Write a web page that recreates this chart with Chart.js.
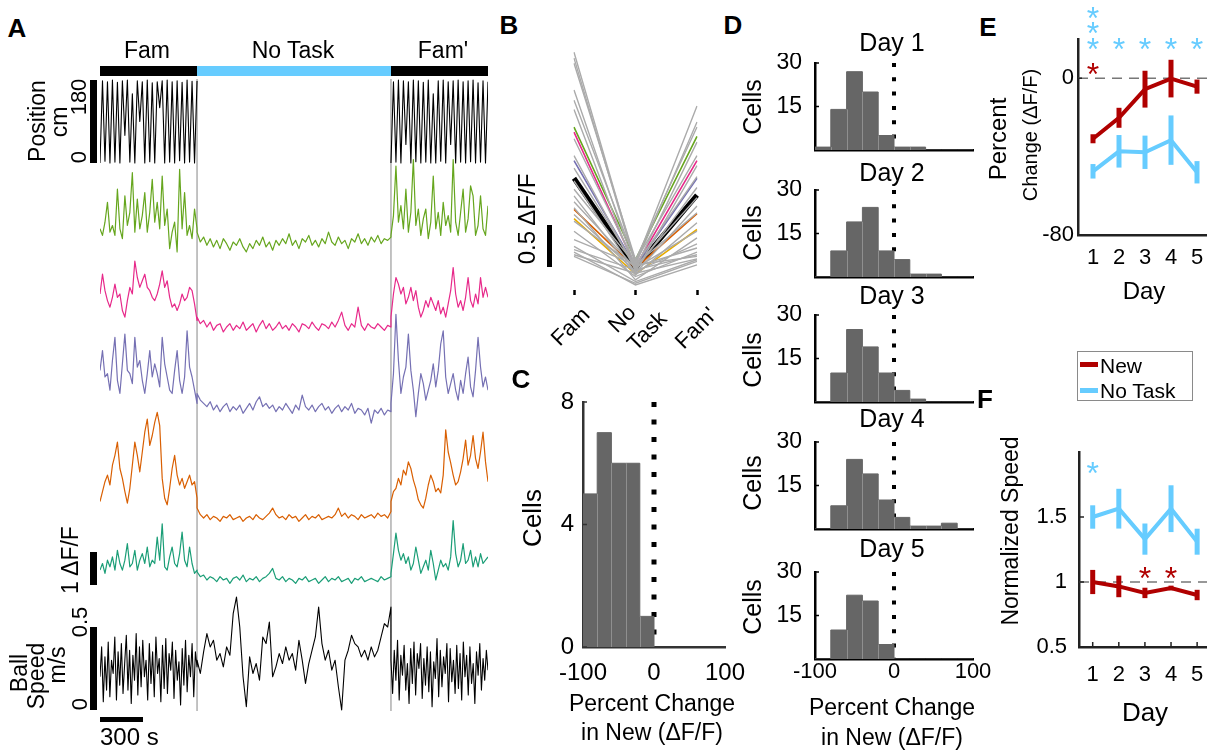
<!DOCTYPE html>
<html><head><meta charset="utf-8">
<script src="https://cdn.jsdelivr.net/npm/chart.js@4.4.1/dist/chart.umd.min.js"></script>
<style>
html,body{margin:0;padding:0;background:#fff;}
#fig{position:relative;width:1207px;height:752px;overflow:hidden;background:#fff;font-family:"Liberation Sans",Arial,Helvetica,sans-serif;color:#000;}
</style></head><body><div id="fig"></div>
<script>
// ================= DATA =================
// Panel A : segment boundaries (s) Fam | No Task | Fam'
const segTimes = [0, 677, 2030, 2707];
// track position (cm)
const posFam  = [0,178,4,176,0,180,2,175,0,178,60,180,2,150,0,178,90,176,0,180,3,174,0,176,120,178,0,180,2,176,0,178,5,175,0,180,2,177,0,178];
const posFamP = [0,176,2,180,0,178,40,176,0,180,3,178,0,175,2,180,0,150,0,178,4,180,0,176,40,178,0,180,2,176,0,178,3,180,0,174,2,178,0,176];
// dF/F traces (relative to No Task level)
const greenFam    = [0.4,0.2,0.6,1.2,0.3,0.5,0.2,1.6,0.4,0.1,1.4,0.5,0.9,2.1,0.3,1.3,0.4,0.8,1.5,0.3,0.9,1.9,0.6,1.2,0.4,2.0,0.5,1.0,-0.2,0.3,0.6,-0.3,2.2,0.4,1.5,0.2,0.5,0.1,1.0,0.4];
const greenNoTask = [0.3,0.0,0.15,-0.1,0.1,-0.15,0.05,-0.2,0.1,-0.05,-0.25,0.0,-0.1,0.1,-0.15,-0.3,-0.05,-0.2,0.05,-0.1,0.15,-0.15,0.0,-0.25,0.05,-0.1,0.1,-0.05,0.25,-0.1,0.05,-0.2,0.1,0.0,0.2,-0.1,0.05,-0.15,0.1,-0.05,0.3,0.0,-0.1,0.15,-0.05,0.05,-0.2,0.1,0.0,0.25,-0.05,0.1,-0.1,0.15,0.0,0.2,-0.05,0.1,0.05,0.15];
const greenFamP   = [0.2,0.8,2.3,0.6,1.1,0.4,1.6,0.3,0.9,2.5,0.5,1.0,0.2,0.7,1.0,0.1,0.6,2.0,0.4,0.9,0.2,1.2,0.5,0.8,0.3,2.5,0.6,0.2,0.9,1.6,0.3,0.7,1.7,1.4,0.2,0.5,1.4,0.4,0.2,1.1];
const pinkFam     = [1.0,1.6,1.1,0.8,0.6,0.9,1.3,0.9,1.0,0.5,0.3,0.8,1.2,1.0,2.0,1.5,1.2,1.4,1.6,1.2,1.1,0.9,0.8,1.0,1.3,1.7,1.2,1.4,0.9,0.6,0.7,0.5,0.7,1.0,0.8,0.9,1.2,1.1,0.7,0.2];
const pinkNoTask  = [0.3,0.1,0.2,0.0,0.15,-0.1,0.05,0.1,-0.15,0.0,0.1,-0.1,0.05,-0.05,0.15,-0.1,0.0,0.1,-0.15,0.05,0.2,-0.05,0.1,-0.1,0.0,0.15,-0.05,0.05,-0.1,0.1,0.0,-0.15,0.1,0.05,-0.05,0.15,0.0,-0.1,0.1,0.05,-0.05,0.15,0.0,0.2,0.45,0.05,-0.1,0.1,0.0,0.6,0.05,-0.1,0.1,0.0,-0.05,0.1,0.0,-0.1,0.05,0.0];
const pinkFamP    = [0.3,1.0,1.5,1.3,1.0,1.2,0.7,0.9,1.2,0.8,1.1,0.6,0.3,0.5,0.8,0.6,0.9,0.7,0.5,0.8,0.4,0.6,0.3,0.7,1.1,1.8,1.0,0.6,0.8,0.5,0.9,1.5,0.8,0.6,1.0,0.7,1.5,0.9,1.2,0.9];
const purpleFam    = [1.2,1.8,1.0,1.1,0.6,1.5,2.2,0.9,0.5,1.4,2.3,1.2,1.1,0.8,2.2,1.3,1.5,0.9,0.5,1.1,1.8,1.0,1.4,1.1,0.7,2.2,1.4,1.0,0.6,0.5,1.2,1.8,0.9,0.5,1.0,2.4,1.3,1.0,0.6,0.2];
const purpleNoTask = [0.5,0.3,0.2,0.1,0.25,0.0,0.15,-0.05,0.1,0.2,-0.05,0.1,0.0,0.15,-0.1,0.05,0.2,0.0,0.25,0.4,0.1,0.2,0.05,0.15,-0.05,0.1,0.0,0.2,0.05,-0.1,0.15,0.0,0.45,0.1,0.0,0.15,-0.05,0.1,0.2,0.0,0.1,-0.1,0.05,0.15,-0.05,0.1,0.0,0.2,-0.1,0.05,0.0,-0.15,0.05,-0.4,0.0,-0.1,0.05,-0.15,0.0,-0.05];
const purpleFamP   = [0.2,1.1,2.9,1.5,0.5,1.0,1.3,2.3,1.2,0.6,-0.2,0.5,1.1,0.8,0.3,0.6,0.9,1.4,0.7,1.2,2.0,2.4,1.0,0.5,0.8,1.1,0.6,0.3,0.9,0.5,1.1,1.6,0.7,0.4,1.2,2.2,1.3,0.7,1.0,0.6];
const orangeFam    = [0.5,0.8,1.1,1.3,1.0,1.6,1.9,2.3,1.5,1.2,0.8,0.45,0.9,1.6,2.3,1.9,1.4,2.0,2.6,3.0,2.2,2.5,2.9,3.2,2.8,1.2,0.6,0.4,0.9,1.5,1.9,1.3,1.0,1.2,0.9,1.1,1.3,1.0,1.1,0.6];
const orangeNoTask = [0.3,0.1,0.0,0.1,-0.05,0.05,0.0,-0.1,0.05,0.0,0.1,-0.05,0.0,0.05,-0.1,0.0,0.05,-0.05,0.1,0.0,-0.05,0.05,0.15,0.3,0.1,0.0,0.05,-0.05,0.1,0.0,0.05,-0.1,0.0,0.1,-0.05,0.05,0.0,0.1,-0.05,0.0,0.05,0.0,0.1,0.3,0.05,0.15,0.0,0.1,0.05,-0.05,0.1,0.0,0.05,0.1,0.0,0.15,0.05,0.1,0.0,0.2];
const orangeFamP   = [0.5,0.8,0.9,1.2,1.0,1.45,1.3,1.7,1.5,1.15,0.9,0.55,0.4,0.3,0.6,1.0,1.3,1.1,0.8,0.9,0.76,1.3,2.67,2.0,1.67,1.3,1.0,1.1,1.4,1.8,2.36,1.6,1.9,2.5,1.8,1.5,2.0,2.6,1.7,1.1];
const tealFam    = [0.3,0.5,0.2,0.6,0.4,0.7,0.3,0.9,0.5,0.3,0.6,1.1,0.4,0.5,0.9,0.3,0.6,0.8,0.5,1.0,0.4,0.6,0.5,1.3,0.6,1.7,0.4,0.3,0.7,1.0,0.5,0.4,0.8,1.45,0.6,0.4,1.0,0.5,0.2,0.3];
const tealNoTask = [0.25,0.1,0.15,0.0,0.1,0.05,-0.05,0.1,0.0,0.05,-0.1,0.05,0.1,0.0,0.15,-0.05,0.05,0.0,0.1,-0.05,0.05,0.1,0.2,0.35,0.05,0.0,0.1,-0.05,0.05,0.0,-0.1,0.05,0.0,0.1,-0.05,0.0,0.05,-0.1,0.0,0.1,-0.05,0.05,0.0,0.1,-0.05,0.0,0.05,-0.1,0.05,0.0,0.1,-0.05,0.0,0.05,0.0,-0.05,0.1,0.0,0.05,0.1];
const tealFamP   = [0.2,0.8,1.42,0.9,0.6,0.8,0.5,0.7,0.3,0.5,1.0,0.6,0.2,0.4,0.6,0.3,0.9,0.5,0.0,0.3,0.6,0.4,0.5,0.3,0.7,1.8,0.8,0.4,0.6,1.1,0.5,0.6,0.9,0.4,0.7,0.4,0.8,0.5,0.6,0.7];
// ball speed (m/s)
const speedFam    = [0.20,0.38,0.05,0.32,0.12,0.41,0.08,0.30,0.22,0.44,0.06,0.35,0.15,0.40,0.10,0.28,0.45,0.12,0.36,0.04,0.33,0.18,0.46,0.09,0.38,0.14,0.42,0.20,0.30,0.06,0.40,0.16,0.35,0.08,0.44,0.22,0.31,0.05,0.39,0.13,0.43,0.10,0.34,0.24,0.41,0.07,0.36,0.18,0.29,0.03,0.37,0.15,0.42,0.11,0.33,0.20,0.40,0.08,0.35,0.26];
const speedNoTask = [0.30,0.22,0.35,0.46,0.38,0.42,0.30,0.34,0.26,0.38,0.33,0.58,0.68,0.50,0.20,0.02,0.32,0.22,0.28,0.18,0.44,0.40,0.53,0.20,0.26,0.34,0.28,0.38,0.30,0.34,0.24,0.42,0.30,0.16,0.28,0.36,0.44,0.62,0.40,0.30,0.36,0.24,0.30,0.14,0.00,0.30,0.36,0.45,0.40,0.38,0.32,0.36,0.30,0.38,0.32,0.36,0.44,0.52,0.50,0.62];
const speedFamP   = [0.30,0.10,0.36,0.18,0.42,0.06,0.33,0.21,0.39,0.12,0.28,0.04,0.37,0.16,0.41,0.09,0.34,0.25,0.40,0.07,0.31,0.15,0.38,0.11,0.35,0.02,0.29,0.19,0.43,0.08,0.36,0.14,0.32,0.22,0.40,0.05,0.37,0.17,0.30,0.10,0.39,0.13,0.34,0.06,0.41,0.20,0.33,0.09,0.38,0.16,0.28,0.04,0.35,0.21,0.40,0.12,0.31,0.18,0.36,0.24];

// Panel B : mean dF/F per condition
const bCategories = ['Fam', 'No Task', "Fam'"];
const bMean   = [1.33, 0.26, 1.13];
const bGreen  = [1.94, 0.36, 1.83];
const bPink   = [1.88, 0.28, 1.54];
const bPurple = [1.54, 0.28, 1.33];
const bOrange = [0.96, 0.26, 0.91];
const bGold   = [0.85, 0.19, 0.72];
const bGrey = [
  [2.83,0.32,2.19],[2.76,0.30,2.00],[2.70,0.36,1.94],[2.38,0.26,1.76],[2.26,0.34,1.60],
  [2.15,0.22,1.48],[1.80,0.30,1.35],[1.60,0.24,1.22],[1.45,0.28,1.10],[1.30,0.20,1.00],
  [1.20,0.30,0.92],[1.12,0.18,0.80],[1.05,0.26,0.70],[0.98,0.12,0.62],[0.90,0.22,0.55],
  [0.82,0.28,0.50],[0.70,0.16,0.45],[0.60,0.30,0.40],[0.52,0.10,0.36],[0.48,0.24,0.42],
  [0.45,0.06,0.30],[0.42,0.20,0.37],[0.40,0.08,0.34]
];

// Panel C : histogram (left bin edges, % change; last edge closes the histogram)
const cBinEdges = [-100, -80, -60, -40, -20, 0];
const cCounts   = [5, 7, 6, 6, 1];
const pctTicks  = [-100, 0, 100];

// Panel D : histograms per day (bins of 20 %)
const dBinEdges = [-100, -80, -60, -40, -20, 0, 20, 40, 60, 80, 100];
const dDay1 = [1, 14, 27, 20, 5, 1, 1, 0, 0, 0];
const dDay2 = [0, 9, 19, 24, 9, 6, 1, 1, 0, 0];
const dDay3 = [0, 10, 25, 19, 10, 4, 1, 0, 0, 0];
const dDay4 = [0, 8, 24, 19, 10, 4, 1, 1, 2, 0];
const dDay5 = [0, 10, 22, 20, 5, 0, 0, 0, 0, 0];
const dCellTicks = [15, 30];

// Panel E : percent change (dF/F)
const days = [1, 2, 3, 4, 5];
const eNewMean    = [-30.9, -20.2, -5.6, -0.2, -4.3];
const eNewErr     = [2.3, 5.1, 9.4, 9.6, 3.6];
const eNoTaskMean = [-47.5, -37.3, -37.8, -31.6, -48.0];
const eNoTaskErr  = [3.7, 8.3, 8.5, 12.6, 5.7];
const eSigNew     = [1, 0, 0, 0, 0];
const eSigNoTask  = [3, 1, 1, 1, 1];
const eTicks      = [-80, 0];

// Panel F : normalized speed
const fNewMean    = [1.00, 0.966, 0.916, 0.954, 0.90];
const fNewErr     = [0.093, 0.083, 0.04, 0.018, 0.04];
const fNoTaskMean = [1.50, 1.564, 1.33, 1.564, 1.31];
const fNoTaskErr  = [0.09, 0.153, 0.12, 0.18, 0.10];
const fSigNew     = [0, 0, 1, 1, 0];
const fSigNoTask  = [1, 0, 0, 0, 0];
const fTicks      = [0.5, 1, 1.5];

// ================= STYLE / HELPERS =================
const FONT = '"Liberation Sans", Arial, Helvetica, sans-serif';
Chart.defaults.font.family = FONT;
Chart.defaults.color = '#000';
const RED = '#b00000', BLUE = '#66ccff';
const fig = document.getElementById('fig');

function txt(s, x, y, size, o) {
  o = o || {};
  const d = document.createElement('div');
  d.textContent = s;
  const st = d.style;
  st.position = 'absolute'; st.left = x + 'px'; st.top = y + 'px';
  st.fontSize = size + 'px'; st.lineHeight = '1'; st.whiteSpace = 'nowrap';
  if (o.bold) st.fontWeight = 'bold';
  let tr = o.left ? 'translate(0,-50%)' : 'translate(-50%,-50%)';
  if (o.rot) tr += ' rotate(-90deg)';
  if (o.diag) { tr = 'translate(-100%,-50%) rotate(-45deg)'; st.transformOrigin = '100% 50%'; }
  st.transform = tr;
  fig.appendChild(d);
  return d;
}
function rect(x, y, w, h, color, extra) {
  const d = document.createElement('div');
  Object.assign(d.style, {position:'absolute', left:x+'px', top:y+'px', width:w+'px', height:h+'px', background:color}, extra || {});
  fig.appendChild(d);
  return d;
}
// box = canvas [left, top, width, height]; area = chart area [left, top, right, bottom] (page px)
function mk(box, area, cfg, plugins) {
  const c = document.createElement('canvas');
  c.width = Math.round(box[2]); c.height = Math.round(box[3]);
  c.style.position = 'absolute'; c.style.left = box[0] + 'px'; c.style.top = box[1] + 'px';
  fig.appendChild(c);
  const o = cfg.options = cfg.options || {};
  o.responsive = false; o.animation = false; o.devicePixelRatio = 1; o.events = [];
  const pad = {left: area[0]-box[0], top: area[1]-box[1], right: box[0]+box[2]-area[2], bottom: box[1]+box[3]-area[3]};
  const padL = pad.left, padB = pad.bottom;
  Object.keys(o.scales || {}).forEach(k => {
    const s = o.scales[k], shown = s.display !== false, horiz = k.charAt(0) === 'x';
    if (shown && horiz) pad.bottom = 0;
    if (shown && !horiz) pad.left = 0;
    s.afterFit = sc => {
      if (sc.isHorizontal()) sc.height = shown ? padB : 0; else sc.width = shown ? padL : 0;
      sc.paddingLeft = sc.paddingRight = sc.paddingTop = sc.paddingBottom = 0;
    };
  });
  o.layout = {padding: pad};
  o.plugins = Object.assign({legend:{display:false}, tooltip:{enabled:false}, title:{display:false}}, o.plugins || {});
  cfg.plugins = plugins || [];
  const chart = new Chart(c, cfg);
  chart.$box = box;
  return chart;
}
const setTicks = vals => sc => { sc.ticks = vals.map(v => ({value: v})); };
const plainLabel = v => String(v);
function segPts(vals, t0, t1) { const n = vals.length; return vals.map((v, i) => ({x: t0 + (t1 - t0) * i / (n - 1), y: v})); }
function trace(a, b, c) { return segPts(a, segTimes[0], segTimes[1]).concat(segPts(b, segTimes[1], segTimes[2]), segPts(c, segTimes[2], segTimes[3])); }
const xy = (xs, ys) => xs.map((x, i) => ({x: x, y: ys[i]}));

function inTicks(opt) {
  return {id:'inTicks', afterDatasetsDraw(ch) {
    const ctx = ch.ctx, a = ch.chartArea; ctx.save();
    ctx.strokeStyle = opt.color || '#000'; ctx.lineWidth = opt.w || 1.5;
    if (opt.y) ch.scales.y.ticks.forEach(t => { const p = ch.scales.y.getPixelForValue(t.value); ctx.beginPath(); ctx.moveTo(a.left, p); ctx.lineTo(a.left + opt.len, p); ctx.stroke(); });
    if (opt.x) ch.scales.x.ticks.forEach(t => { const p = ch.scales.x.getPixelForValue(t.value); ctx.beginPath(); ctx.moveTo(p, a.bottom); ctx.lineTo(p, a.bottom - opt.len); ctx.stroke(); });
    ctx.restore();
  }};
}
function refLine(value, color, dash, w) {
  return {id:'refLine', beforeDatasetsDraw(ch) {
    const ctx = ch.ctx, a = ch.chartArea, y = ch.scales.y.getPixelForValue(value);
    ctx.save(); ctx.strokeStyle = color; ctx.lineWidth = w; ctx.setLineDash(dash);
    ctx.beginPath(); ctx.moveTo(a.left, y); ctx.lineTo(a.right, y); ctx.stroke(); ctx.restore();
  }};
}
function binSeparators(edges, counts) {
  return {id:'binSep', afterDatasetsDraw(ch) {
    const ctx = ch.ctx, xs = ch.scales.x, ys = ch.scales.y; ctx.save();
    ctx.strokeStyle = '#8f8f8f'; ctx.lineWidth = 1;
    for (let i = 1; i < counts.length; i++) {
      const h = Math.min(counts[i - 1], counts[i]); if (h <= 0) continue;
      const x = Math.round(xs.getPixelForValue(edges[i])) + 0.5;
      ctx.beginPath(); ctx.moveTo(x, ys.getPixelForValue(0)); ctx.lineTo(x, ys.getPixelForValue(h)); ctx.stroke();
    }
    ctx.restore();
  }};
}
const errBars = {id:'errBars', afterDatasetsDraw(ch) {
  const ctx = ch.ctx;
  ch.data.datasets.forEach((ds, i) => {
    if (!ds.errors) return;
    const m = ch.getDatasetMeta(i), ys = ch.scales[m.yAxisID];
    ctx.save(); ctx.strokeStyle = ds.borderColor; ctx.lineWidth = ds.errWidth || 5; ctx.lineCap = 'butt';
    ds.data.forEach((p, j) => {
      const x = m.data[j].x, e = ds.errors[j];
      ctx.beginPath(); ctx.moveTo(x, ys.getPixelForValue(p.y - e)); ctx.lineTo(x, ys.getPixelForValue(p.y + e)); ctx.stroke();
    });
    ctx.restore();
  });
}};
function stars(items) {
  return {id:'stars', afterDraw(ch) {
    const ctx = ch.ctx; ctx.save();
    ctx.font = '32px ' + FONT; ctx.textAlign = 'center'; ctx.textBaseline = 'alphabetic';
    items.forEach(it => {
      const x = ch.scales.x.getPixelForValue(it.x);
      const y = it.yVal !== undefined ? ch.scales.y.getPixelForValue(it.yVal) : ch.chartArea.top + it.yOff;
      ctx.fillStyle = it.color; ctx.fillText('*', x, y + 18.5);
    });
    ctx.restore();
  }};
}

// ================= PANEL A =================
const A_T = 60, A_B = 715;
function yAx(v0, p0, k) { return {type:'linear', display:false, min: v0 - (A_B - p0) / k, max: v0 + (p0 - A_T) / k}; }
const lineDs = (data, axis, color, w) => ({data: data, yAxisID: axis, borderColor: color, borderWidth: w || 1.1, pointRadius: 0, tension: 0, borderJoinStyle: 'round'});
mk([96, A_T, 396, A_B - A_T], [100, A_T, 488, A_B], {
  type: 'line',
  data: {datasets: [
    lineDs(segPts(posFam, segTimes[0], segTimes[1]), 'yPos', '#000', 1.1),
    lineDs(segPts(posFamP, segTimes[2], segTimes[3]), 'yPos', '#000', 1.1),
    lineDs(trace(greenFam, greenNoTask, greenFamP), 'yG', '#66a61e', 1.2),
    lineDs(trace(pinkFam, pinkNoTask, pinkFamP), 'yP', '#e7298a', 1.2),
    lineDs(trace(purpleFam, purpleNoTask, purpleFamP), 'yU', '#7570b3', 1.2),
    lineDs(trace(orangeFam, orangeNoTask, orangeFamP), 'yO', '#d95f02', 1.2),
    lineDs(trace(tealFam, tealNoTask, tealFamP), 'yT', '#1b9e77', 1.2),
    lineDs(trace(speedFam, speedNoTask, speedFamP), 'yS', '#000', 1.1)
  ]},
  options: {scales: {
    x: {type:'linear', display:false, min: segTimes[0], max: segTimes[3]},
    yPos: yAx(0, 163, 83/180),
    yG: yAx(0, 242, 33), yP: yAx(0, 327, 33), yU: yAx(0, 410, 33), yO: yAx(0, 518, 33), yT: yAx(0, 580, 33),
    yS: yAx(0, 710, 166)
  }}
}, [{id:'vlines', beforeDatasetsDraw(ch) {
  const ctx = ch.ctx; ctx.save(); ctx.strokeStyle = '#9a9a9a'; ctx.lineWidth = 1.2;
  [segTimes[1], segTimes[2]].forEach(t => { const x = ch.scales.x.getPixelForValue(t); ctx.beginPath(); ctx.moveTo(x, 79 - A_T); ctx.lineTo(x, 711 - A_T); ctx.stroke(); });
  ctx.restore();
}}]);

// ================= PANEL B =================
const bLine = (v, color, w) => ({data: v, borderColor: color, borderWidth: w, pointRadius: 0, tension: 0});
const bChart = mk([520, 30, 200, 330], [574, 38, 697, 290], {
  type: 'line',
  data: {labels: bCategories, datasets: [].concat(
    bGrey.map(v => bLine(v, '#ababab', 1.4)),
    [bLine(bGold, '#e6ab02', 1.6), bLine(bOrange, '#d95f02', 1.6), bLine(bPurple, '#7570b3', 1.6),
     bLine(bPink, '#e7298a', 1.6), bLine(bGreen, '#66a61e', 1.6), bLine(bMean, '#000', 5)]
  )},
  options: {scales: {
    x: {type:'category', offset:false, border:{display:false},
        grid:{display:true, drawOnChartArea:false, drawTicks:true, tickLength:5, tickWidth:2.5, tickColor:'#000'},
        ticks:{display:false}},
    y: {display:false, min:0, max:3}
  }}
});
// rotated category labels placed at the category-scale tick positions
(function () {
  const sx = bChart.scales.x, ox = bChart.$box[0];
  const tick = i => ox + sx.getPixelForValue(i);
  txt(bCategories[0], tick(0) + 12, 311, 22, {diag:true});
  const w = bCategories[1].split(' ');
  txt(w[0], tick(1) - 4, 309, 22, {diag:true});
  txt(w[1], tick(1) + 27, 315, 22, {diag:true});
  txt(bCategories[2], tick(2) + 16, 311, 22, {diag:true});
})();

// ================= PANEL C / D histograms =================
const histDs = (edges, counts) => ({data: xy(edges, counts.concat([0])), stepped: true, fill: 'origin',
  backgroundColor: '#666666', borderColor: '#666666', borderWidth: 1, pointRadius: 0});
const dotted = (top, w, dash) => ({data:[{x:0, y:top}, {x:0, y:0}], borderColor:'#000', borderWidth:w, borderDash:dash, borderCapStyle:'butt', pointRadius:0, fill:false});
mk([530, 392, 232, 320], [583, 402, 725, 647], {
  type: 'line',
  data: {datasets: [histDs(cBinEdges, cCounts), dotted(8, 5, [5, 12.5])]},
  options: {scales: {
    x: {type:'linear', min:-100, max:100, afterBuildTicks: setTicks(pctTicks), grid:{display:false, drawTicks:false},
        border:{display:true, color:'#333', width:2.5}, ticks:{padding:12, font:{size:24}, callback: plainLabel}},
    y: {type:'linear', min:0, max:8, afterBuildTicks: setTicks([0, 4, 8]), grid:{display:false, drawTicks:false},
        border:{display:true, color:'#333', width:2.5}, ticks:{padding:9, font:{size:24}, callback: plainLabel}}
  }}
}, [binSeparators(cBinEdges, cCounts), inTicks({y:true, len:4, color:'#333'})]);

const dDays = [dDay1, dDay2, dDay3, dDay4, dDay5];
const dBottoms = [150, 277, 402, 529, 659];
dDays.forEach((counts, k) => {
  const b = dBottoms[k], last = k === dDays.length - 1;
  mk([765, b - 97, 237, 127], [815, b - 87, 973, b], {
    type: 'line',
    data: {datasets: [histDs(dBinEdges, counts), dotted(30, 4, [4, 10.3])]},
    options: {scales: {
      x: {type:'linear', min:-100, max:100, afterBuildTicks: setTicks(pctTicks), grid:{display:false, drawTicks:false},
          border:{display:true, color:'#000', width:2.5}, ticks:{display:last, padding:0, font:{size:22}, callback: plainLabel}},
      y: {type:'linear', min:0, max:30, afterBuildTicks: setTicks(dCellTicks), grid:{display:false, drawTicks:false},
          border:{display:true, color:'#000', width:2.5}, ticks:{padding:13, font:{size:23}, callback: plainLabel}}
    }}
  }, [binSeparators(dBinEdges, counts), inTicks({y:true, len:4})]);
});

// ================= PANEL E =================
const meanDs = (means, errs, color) => ({data: xy(days, means), errors: errs, borderColor: color, borderWidth: 4, pointRadius: 0, tension: 0, errWidth: 5});
const eStars = [];
days.forEach((d, i) => {
  for (let k = 0; k < eSigNoTask[i]; k++) eStars.push({x: d, yOff: 2 - k * 15.3, color: BLUE});
  if (eSigNew[i]) eStars.push({x: d, yVal: 6, color: RED});
});
mk([1030, 0, 190, 285], [1078, 39, 1212.6, 235], {
  type: 'line',
  data: {datasets: [meanDs(eNoTaskMean, eNoTaskErr, BLUE), meanDs(eNewMean, eNewErr, RED)]},
  options: {scales: {
    x: {type:'linear', min:0.423, max:5.6, afterBuildTicks: setTicks(days), grid:{display:false, drawTicks:false},
        border:{display:true, color:'#222', width:2.5}, ticks:{padding:10, font:{size:22}, callback: plainLabel}},
    y: {type:'linear', min:-80, max:20, afterBuildTicks: setTicks(eTicks), grid:{display:false, drawTicks:false},
        border:{display:true, color:'#222', width:2.5}, ticks:{padding:4, font:{size:22}, callback: plainLabel}}
  }}
}, [refLine(0, '#777', [10, 7], 1.5), errBars, stars(eStars), inTicks({y:true, len:4, color:'#222'})]);

// ================= PANEL F =================
const fStars = [];
days.forEach((d, i) => {
  if (fSigNoTask[i]) fStars.push({x: d, yOff: 13, color: BLUE});
  if (fSigNew[i]) fStars.push({x: d, yVal: 1.09, color: RED});
});
mk([1030, 440, 190, 260], [1079, 452, 1212.8, 647], {
  type: 'line',
  data: {datasets: [meanDs(fNoTaskMean, fNoTaskErr, BLUE), meanDs(fNewMean, fNewErr, RED)]},
  options: {scales: {
    x: {type:'linear', min:0.475, max:5.6, afterBuildTicks: setTicks(days), grid:{display:false, drawTicks:false},
        border:{display:true, color:'#222', width:2.5}, ticks:{padding:15, font:{size:22}, callback: plainLabel}},
    y: {type:'linear', min:0.5, max:2, afterBuildTicks: setTicks(fTicks), grid:{display:false, drawTicks:false},
        border:{display:true, color:'#222', width:2.5}, ticks:{padding:12, font:{size:22}, callback: plainLabel}}
  }}
}, [refLine(1, '#777', [10, 7], 1.5), errBars, stars(fStars), inTicks({x:true, y:true, len:5, color:'#222'})]);

// ================= DECORATION & TEXT =================
rect(100, 66, 97, 10, '#000'); rect(197, 66, 194, 10, BLUE); rect(391, 66, 97, 10, '#000');
rect(90, 80, 7, 83, '#000');     // position 0-180 cm
rect(90, 552, 7, 33, '#000');    // 1 dF/F
rect(90, 627, 7, 83, '#000');    // 0-0.5 m/s
rect(100, 717, 43, 5, '#000');   // 300 s
rect(546.5, 225, 5, 42, '#000'); // 0.5 dF/F (B)

txt('A', 17, 27.5, 26, {bold:true});
txt('Fam', 147, 49.5, 23); txt('No Task', 293, 49.5, 23); txt("Fam'", 443, 49.5, 23);
txt('Position', 37, 121, 23, {rot:true}); txt('cm', 59, 122, 23, {rot:true});
txt('180', 79, 97, 22, {rot:true}); txt('0', 79, 157, 22, {rot:true});
txt('1 \u0394F/F', 70, 560, 23, {rot:true});
txt('0.5', 79.5, 622, 22, {rot:true}); txt('0', 79.5, 704, 22, {rot:true});
txt('Ball', 19, 673, 23, {rot:true}); txt('Speed', 36, 676, 23, {rot:true}); txt('m/s', 57, 665, 23, {rot:true});
txt('300 s', 100, 737, 24, {left:true});

txt('B', 509, 25, 26, {bold:true});
txt('0.5 \u0394F/F', 527, 219, 24, {rot:true});

txt('C', 521, 378.5, 26, {bold:true});
txt('Cells', 532, 518, 26, {rot:true});
txt('Percent Change', 652, 703, 23);
txt('in New (\u0394F/F)', 652, 732, 23);

txt('D', 733, 25, 26, {bold:true});
[41.7, 171.7, 295, 418, 548].forEach((y, i) => txt('Day ' + (i + 1), 892, y, 25));
[107, 233, 360, 483, 607].forEach(y => txt('Cells', 752, y, 25, {rot:true}));
txt('Percent Change', 892, 707, 23);
txt('in New (\u0394F/F)', 892, 737, 23);

txt('E', 988, 27, 26, {bold:true});
txt('Percent', 998, 138.5, 24, {rot:true});
txt('Change (\u0394F/F)', 1030, 135, 20, {rot:true});
txt('Day', 1144, 290.5, 24);

txt('F', 985, 398.5, 26, {bold:true});
txt('Normalized Speed', 1010, 530.5, 23, {rot:true});
txt('Day', 1145, 711.5, 26);
rect(1077, 351, 116, 50, '#fff', {border:'1px solid #8a8a8a', boxSizing:'border-box'});
rect(1080, 362, 18, 5, RED); txt('New', 1100, 365, 21, {left:true});
rect(1080, 388, 18, 5, BLUE); txt('No Task', 1100, 390, 21, {left:true});
</script></body></html>
